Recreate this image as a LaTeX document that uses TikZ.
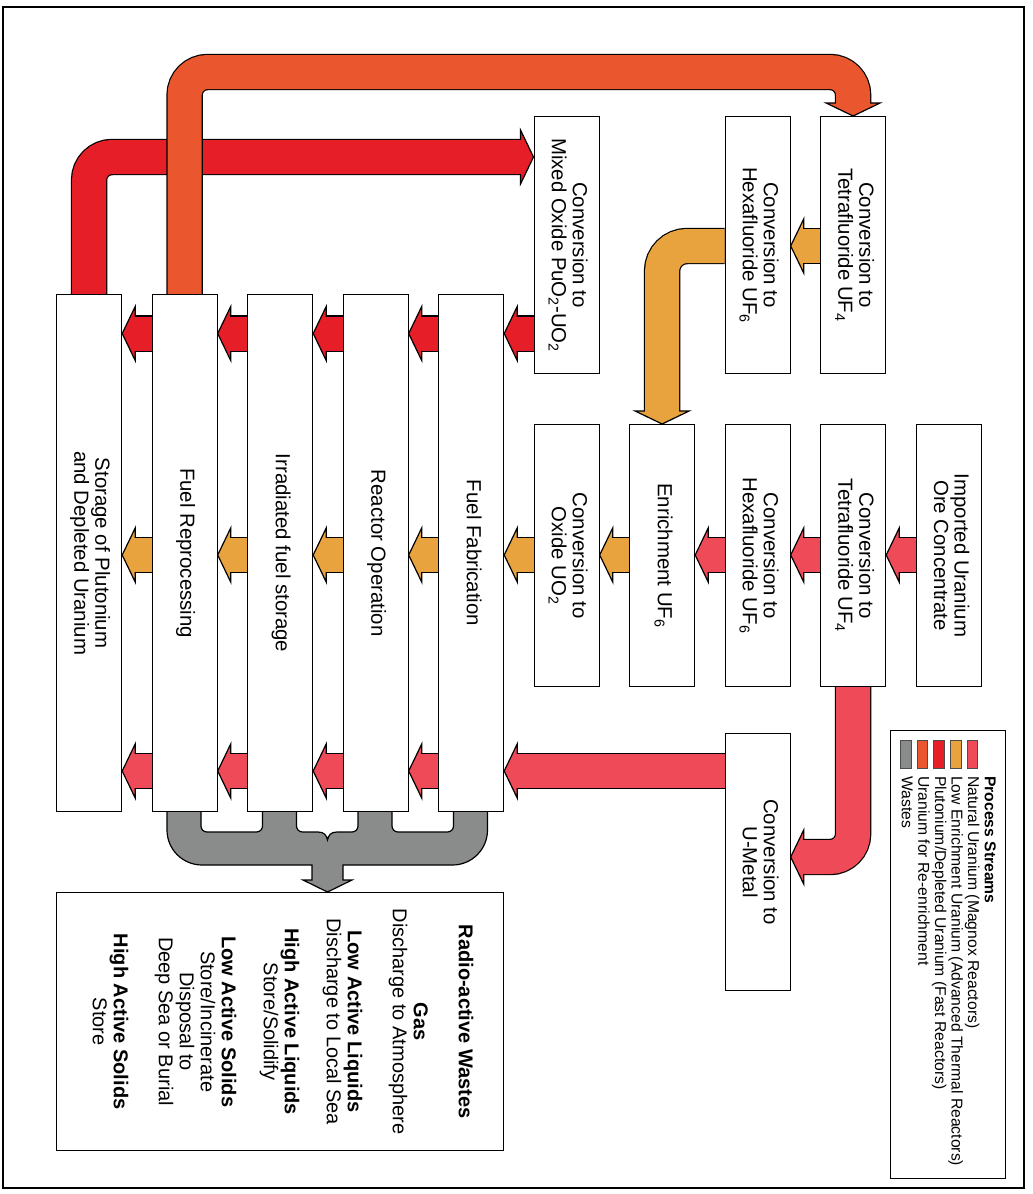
\documentclass[tikz,border=0pt]{standalone}
\usepackage{fontspec}
\setmainfont{Liberation Sans}
\usepackage{graphicx}
\usetikzlibrary{calc}
\pgfdeclarelayer{bg}
\pgfsetlayers{bg,main}
\definecolor{natU}{RGB}{238,74,88}
\definecolor{leu}{RGB}{232,162,62}
\definecolor{plu}{RGB}{230,30,40}
\definecolor{reu}{RGB}{234,86,46}
\definecolor{waste}{RGB}{138,140,140}
\newcommand{\rottext}[1]{\rotatebox{-90}{\begin{tabular}{@{}c@{}}#1\end{tabular}}}
\newcommand{\harrow}[4]{%
  \draw[shaftout] (#2.west |- #4) -- ($(#3.east |- #4)+(11,0)$);
  \draw[headst, fill=#1] (#3.east |- #4) -- ++(13,-27) -- ++(0,54) -- cycle;
  \draw[shaftin, draw=#1] (#2.west |- #4) -- ($(#3.east |- #4)+(11,0)$);
}
\tikzset{
  box/.style={draw=black, line width=1.2pt, fill=white, inner sep=0pt, anchor=north west,
    minimum width=65pt, font=\fontsize{20.4}{20.5}\selectfont},
  shaftout/.style={draw=black, line width=36.4pt},
  shaftin/.style={line width=34pt},
  headst/.style={draw=black, line width=1.2pt, line join=miter},
  swatch/.style={draw=black!70, line width=0.8pt},
}
\begin{document}
\begin{tikzpicture}[x=1pt,y=-1pt]
\useasboundingbox (0,0) rectangle (1033,1194);
% level coordinates
\coordinate (yRe) at (0,72);
\coordinate (yPu) at (0,157);
\coordinate (yT) at (0,246);
\coordinate (yR) at (0,333.5);
\coordinate (yO) at (0,555);
\coordinate (yN) at (0,771);
\coordinate (yU) at (0,857);
% frame
\draw[line width=1.2pt] (3,7) rectangle (1024,1188);
% tall boxes
\node[box, minimum height=517pt] (b1) at (56,294) {\rottext{Storage of Plutonium\\and Depleted Uranium}};
\node[box, minimum height=517pt] (b2) at (151.5,294) {\rottext{Fuel Reprocessing}};
\node[box, minimum height=517pt] (b3) at (247,294) {\rottext{Irradiated fuel storage}};
\node[box, minimum height=517pt] (b4) at (342.5,294) {\rottext{Reactor Operation}};
\node[box, minimum height=517pt] (b5) at (438,294) {\rottext{Fuel Fabrication}};
% top row
\node[box, minimum height=257pt] (mo) at (533.5,116) {\rottext{Conversion to\\Mixed Oxide PuO\textsubscript{2}-UO\textsubscript{2}}};
\node[box, minimum height=257pt] (hx1) at (724.5,116) {\rottext{Conversion to\\Hexafluoride UF\textsubscript{6}}};
\node[box, minimum height=257pt] (tf1) at (820,116) {\rottext{Conversion to\\Tetrafluoride UF\textsubscript{4}}};
% middle row
\node[box, minimum height=262pt] (ox) at (533.5,424) {\rottext{Conversion to\\Oxide UO\textsubscript{2}}};
\node[box, minimum height=262pt] (en) at (629,424) {\rottext{Enrichment UF\textsubscript{6}}};
\node[box, minimum height=262pt] (hx2) at (724.5,424) {\rottext{Conversion to\\Hexafluoride UF\textsubscript{6}}};
\node[box, minimum height=262pt] (tf2) at (820,424) {\rottext{Conversion to\\Tetrafluoride UF\textsubscript{4}}};
\node[box, minimum height=262pt] (im) at (915.5,424) {\rottext{Imported Uranium\\Ore Concentrate}};
% U-metal
\node[box, minimum height=257pt] (um) at (724.5,733) {\rottext{Conversion to\\U-Metal}};
% wastes box
\node[box, minimum width=447pt, minimum height=258pt, font=\fontsize{20}{21}\selectfont] (wb) at (56,892) {\rottext{%
\textbf{Radio-active Wastes}\\[24pt]
\textbf{Gas}\\
Discharge to Atmosphere\\[24pt]
\textbf{Low Active Liquids}\\
Discharge to Local Sea\\[21pt]
\textbf{High Active Liquids}\\
Store/Solidify\\[21pt]
\textbf{Low Active Solids}\\
Store/Incinerate\\
Disposal to\\
Deep Sea or Burial\\[24pt]
\textbf{High Active Solids}\\
Store}};
% legend
\node[draw=black, line width=1.2pt, inner sep=0pt, anchor=north west, minimum width=115pt, minimum height=448pt] (lg) at (890,730) {};
\node[rotate=-90, anchor=north west, inner sep=0pt, align=left, font=\fontsize{15.7}{16.6}\selectfont] (lgt) at (996,776)
  {\textbf{Process Streams}\\Natural Uranium (Magnox Reactors)\\Low Enrichment Uranium (Advanced Thermal Reactors)\\Plutonium/Depleted Uranium (Fast Reactors)\\Uranium for Re-enrichment\\Wastes};
\draw[swatch, fill=natU] (967,740) rectangle (977.5,768);
\draw[swatch, fill=leu] (950.5,740) rectangle (961,768);
\draw[swatch, fill=plu] (933.5,740) rectangle (944,768);
\draw[swatch, fill=reu] (917,740) rectangle (927.5,768);
\draw[swatch, fill=waste] (900.5,740) rectangle (911,768);

\begin{pgfonlayer}{bg}
\fill[white] (0,0) rectangle (1033,1194);
% wastes manifold
\draw[fill=waste, line width=1.2pt, line join=miter]
  (167,811) -- (167,830) arc[start angle=180, end angle=270, radius=35pt]
  -- (312,865) -- (312,880) -- (303,880) -- (327.5,892) -- (352,880) -- (343,880) -- (343,865)
  -- (452.5,865) arc[start angle=270, end angle=360, radius=35pt]
  -- (487.5,811) -- (453.5,811) -- (453.5,826) arc[start angle=0, end angle=-90, radius=6pt]
  -- (398,832) arc[start angle=270, end angle=180, radius=6pt]
  -- (392,811) -- (358,811) -- (358,826) arc[start angle=0, end angle=-90, radius=6pt]
  -- (337,832) .. controls (331,832) and (328.5,835) .. (327.5,840)
  .. controls (326.5,835) and (324,832) .. (318,832)
  -- (302.5,832) arc[start angle=270, end angle=180, radius=6pt]
  -- (296.5,811) -- (262.5,811) -- (262.5,826) arc[start angle=0, end angle=-90, radius=6pt]
  -- (207,832) arc[start angle=270, end angle=180, radius=6pt]
  -- (201,811) -- cycle;
% natural uranium bend: tetrafluoride -> U-metal
\draw[shaftout, rounded corners=23pt] (tf2.south) -- (tf2.south |- yU) -- ($(um.east |- yU)+(11,0)$);
\draw[headst, fill=natU] (um.east |- yU) -- ++(13,-27) -- ++(0,54) -- cycle;
\draw[shaftin, draw=natU, rounded corners=23pt] (tf2.south) -- (tf2.south |- yU) -- ($(um.east |- yU)+(11,0)$);
% low enrichment bend: hexafluoride -> enrichment
\draw[shaftout, rounded corners=25pt] (hx1.west |- yT) -- (en.north |- yT) -- ($(en.north)+(0,-11)$);
\draw[headst, fill=leu] (en.north) -- ++(-27,-13) -- ++(54,0) -- cycle;
\draw[shaftin, draw=leu, rounded corners=25pt] (hx1.west |- yT) -- (en.north |- yT) -- ($(en.north)+(0,-11)$);
% plutonium: storage -> mixed oxide
\draw[shaftout, rounded corners=23pt] (b1.north) -- (b1.north |- yPu) -- ($(mo.west |- yPu)+(-11,0)$);
\draw[headst, fill=plu] (mo.west |- yPu) -- ++(-13,-27) -- ++(0,54) -- cycle;
\draw[shaftin, draw=plu, rounded corners=23pt] (b1.north) -- (b1.north |- yPu) -- ($(mo.west |- yPu)+(-11,0)$);
% uranium for re-enrichment: reprocessing -> tetrafluoride
\draw[shaftout, rounded corners=23pt] (b2.north) -- (b2.north |- yRe) -- (tf1.north |- yRe) -- ($(tf1.north)+(0,-11)$);
\draw[headst, fill=reu] (tf1.north) -- ++(-27,-13) -- ++(54,0) -- cycle;
\draw[shaftin, draw=reu, rounded corners=23pt] (b2.north) -- (b2.north |- yRe) -- (tf1.north |- yRe) -- ($(tf1.north)+(0,-11)$);
% straight arrows
\harrow{leu}{tf1}{hx1}{yT}
\harrow{plu}{b2}{b1}{yR}
\harrow{plu}{b3}{b2}{yR}
\harrow{plu}{b4}{b3}{yR}
\harrow{plu}{b5}{b4}{yR}
\harrow{plu}{mo}{b5}{yR}
\harrow{leu}{b2}{b1}{yO}
\harrow{leu}{b3}{b2}{yO}
\harrow{leu}{b4}{b3}{yO}
\harrow{leu}{b5}{b4}{yO}
\harrow{leu}{ox}{b5}{yO}
\harrow{leu}{en}{ox}{yO}
\harrow{natU}{hx2}{en}{yO}
\harrow{natU}{tf2}{hx2}{yO}
\harrow{natU}{im}{tf2}{yO}
\harrow{natU}{b2}{b1}{yN}
\harrow{natU}{b3}{b2}{yN}
\harrow{natU}{b4}{b3}{yN}
\harrow{natU}{b5}{b4}{yN}
\harrow{natU}{um}{b5}{yN}
\end{pgfonlayer}
\end{tikzpicture}
\end{document}
